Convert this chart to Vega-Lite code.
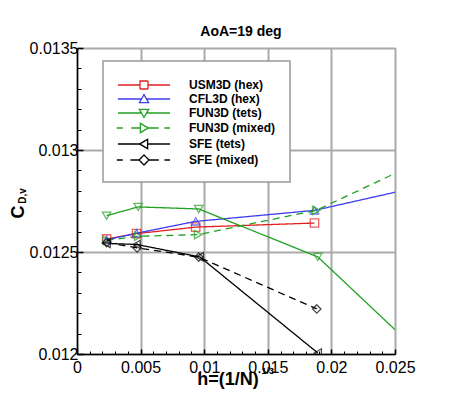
{
  "$schema": "https://vega.github.io/schema/vega-lite/v6.json",
  "autosize": "none",
  "width": 318,
  "height": 306,
  "padding": {"left": 77, "top": 48, "right": 55, "bottom": 46},
  "background": "white",
  "title": {
    "text": "AoA=19 deg",
    "font": "Liberation Sans",
    "fontSize": 14,
    "fontWeight": "bold",
    "color": "black",
    "anchor": "middle",
    "dx": 5,
    "offset": 1.5
  },
  "config": {
    "view": {"stroke": "#777777", "strokeWidth": 1},
    "axis": {
      "labelFont": "Liberation Sans",
      "labelFontSize": 16,
      "labelColor": "black",
      "titleFont": "Liberation Sans",
      "titleFontWeight": "bold",
      "titleColor": "black",
      "domainColor": "black",
      "domainWidth": 1.5,
      "tickColor": "black",
      "gridColor": "#aaaaaa",
      "gridWidth": 2,
      "labelFlush": false,
      "labelOverlap": false
    },
    "legend": {
      "labelFont": "Liberation Sans",
      "labelFontSize": 12,
      "labelFontWeight": "bold",
      "labelColor": "black",
      "labelLimit": 200
    }
  },
  "data": {
    "values": [
      {"series": "USM3D (hex)", "h": 0.00233, "cd": 0.012564},
      {"series": "USM3D (hex)", "h": 0.00468, "cd": 0.01259},
      {"series": "USM3D (hex)", "h": 0.00933, "cd": 0.012622},
      {"series": "USM3D (hex)", "h": 0.01867, "cd": 0.012642},
      {"series": "CFL3D (hex)", "h": 0.00233, "cd": 0.01256},
      {"series": "CFL3D (hex)", "h": 0.00468, "cd": 0.012592},
      {"series": "CFL3D (hex)", "h": 0.00933, "cd": 0.01265},
      {"series": "CFL3D (hex)", "h": 0.01867, "cd": 0.012704},
      {"series": "CFL3D (hex)", "h": 0.0379, "cd": 0.012974},
      {"series": "FUN3D (tets)", "h": 0.00233, "cd": 0.012678},
      {"series": "FUN3D (tets)", "h": 0.00481, "cd": 0.012721},
      {"series": "FUN3D (tets)", "h": 0.00957, "cd": 0.012711},
      {"series": "FUN3D (tets)", "h": 0.01893, "cd": 0.012476},
      {"series": "FUN3D (tets)", "h": 0.0379, "cd": 0.011361},
      {"series": "FUN3D (mixed)", "h": 0.00233, "cd": 0.012557},
      {"series": "FUN3D (mixed)", "h": 0.00481, "cd": 0.012577},
      {"series": "FUN3D (mixed)", "h": 0.00952, "cd": 0.012585},
      {"series": "FUN3D (mixed)", "h": 0.0188, "cd": 0.012704},
      {"series": "FUN3D (mixed)", "h": 0.0379, "cd": 0.013262},
      {"series": "SFE (tets)", "h": 0.00233, "cd": 0.012542},
      {"series": "SFE (tets)", "h": 0.00468, "cd": 0.012537},
      {"series": "SFE (tets)", "h": 0.00965, "cd": 0.012476},
      {"series": "SFE (tets)", "h": 0.01893, "cd": 0.012005},
      {"series": "SFE (mixed)", "h": 0.00233, "cd": 0.012546},
      {"series": "SFE (mixed)", "h": 0.00473, "cd": 0.01252},
      {"series": "SFE (mixed)", "h": 0.00957, "cd": 0.012475},
      {"series": "SFE (mixed)", "h": 0.01885, "cd": 0.012221}
    ]
  },
  "resolve": {"axis": {"x": "independent", "y": "independent"}},
  "layer": [
    {
      "mark": {"type": "line", "clip": true, "strokeWidth": 1.3},
      "encoding": {
        "x": {
          "field": "h",
          "type": "quantitative",
          "scale": {"domain": [0, 0.025], "nice": false, "zero": false},
          "axis": {
            "orient": "bottom",
            "values": [0, 0.005, 0.01, 0.015, 0.02, 0.025],
            "format": "~g",
            "tickSize": -5,
            "tickWidth": 1.5,
            "labelPadding": 10.5,
            "grid": true,
            "title": "h=(1/N)",
            "titleFontSize": 18,
            "titleAlign": "center",
            "titleBaseline": "alphabetic",
            "titleX": 150.5,
            "titleY": 30
          }
        },
        "y": {
          "field": "cd",
          "type": "quantitative",
          "scale": {"domain": [0.012, 0.0135], "nice": false, "zero": false},
          "axis": {
            "orient": "left",
            "values": [0.012, 0.0125, 0.013, 0.0135],
            "format": "~g",
            "tickSize": -6,
            "tickWidth": 1.5,
            "labelPadding": 5,
            "grid": true,
            "title": "C",
            "titleFontSize": 18,
            "titleAngle": 270,
            "titleAlign": "center",
            "titleBaseline": "alphabetic",
            "titleX": -53.5,
            "titleY": 163.5
          }
        },
        "color": {
          "field": "series",
          "type": "nominal",
          "scale": {
            "domain": ["USM3D (hex)", "CFL3D (hex)", "FUN3D (tets)", "FUN3D (mixed)", "SFE (tets)", "SFE (mixed)"],
            "range": ["#e0201f", "#3c3cf0", "#22a022", "#22a022", "black", "black"]
          },
          "legend": {
            "title": " ",
            "titleFontSize": 4,
            "titlePadding": 0,
            "orient": "none",
            "legendX": 26,
            "legendY": 13,
            "direction": "vertical",
            "padding": 14,
            "fillColor": "white",
            "strokeColor": "#999999",
            "labelFont": "Liberation Sans",
            "labelFontSize": 12,
            "labelFontWeight": "bold",
            "labelColor": "black",
            "symbolSize": 64,
            "symbolStrokeWidth": 1.3,
            "symbolOffset": 21,
            "labelOffset": 39,
            "rowPadding": 0,
            "encode": {
              "legend": {"update": {"strokeWidth": {"value": 1.5}}},
              "labels": {"update": {"fontSize": {"value": 12}}},
              "symbols": {
                "update": {
                  "size": {"value": 64},
                  "fill": {"value": "transparent"},
                  "strokeDash": {"value": [1, 0]},
                  "shape": {
                    "signal": "datum.value === 'USM3D (hex)' ? 'M-6.5,0H-1M1,0H6.5M-1,-1H1V1H-1Z' : datum.value === 'CFL3D (hex)' ? 'M-6.5,0H-0.63M0.63,0H6.5M0,-1.1L1.15,0.9L-1.15,0.9Z' : datum.value === 'FUN3D (tets)' ? 'M-6.5,0H-0.63M0.63,0H6.5M0,1.1L1.15,-0.9L-1.15,-0.9Z' : datum.value === 'FUN3D (mixed)' ? 'M-6.8,0H-5.3M-3.2,0H-0.9M1.1,0H3.7M5.1,0H6.5M-0.9,-1.15L1.1,0L-0.9,1.15Z' : datum.value === 'SFE (tets)' ? 'M-6.5,0H-1.1M0.9,0H6.5M0.9,-1.15L-1.1,0L0.9,1.15Z' : 'M-6.8,0H-5.3M-3.4,0H-1.25M1.25,0H3.7M5.1,0H6.5M0,-1.25L1.25,0L0,1.25L-1.25,0Z'"
                  }
                }
              }
            }
          }
        },
        "strokeDash": {
          "condition": {"test": "indexof(datum.series, 'mixed') >= 0", "value": [7, 5]},
          "value": [1, 0]
        }
      }
    },
    {
      "mark": {"type": "point", "clip": true, "filled": false, "size": 70, "strokeWidth": 1.3},
      "encoding": {
        "x": {
          "field": "h",
          "type": "quantitative",
          "axis": {
            "orient": "bottom",
            "values": [0.001, 0.002, 0.003, 0.004, 0.006, 0.007, 0.008, 0.009, 0.011, 0.012, 0.013, 0.014, 0.016, 0.017, 0.018, 0.019, 0.021, 0.022, 0.023, 0.024],
            "labels": false,
            "domain": false,
            "grid": false,
            "tickSize": -3,
            "tickWidth": 1,
            "title": "1/3",
            "titleFontSize": 9,
            "titleAlign": "left",
            "titleBaseline": "alphabetic",
            "titleX": 184,
            "titleY": 19.3
          }
        },
        "y": {
          "field": "cd",
          "type": "quantitative",
          "axis": {
            "orient": "left",
            "values": [0.0121, 0.0122, 0.0123, 0.0124, 0.0126, 0.0127, 0.0128, 0.0129, 0.0131, 0.0132, 0.0133, 0.0134],
            "labels": false,
            "domain": false,
            "grid": false,
            "tickSize": -4,
            "tickWidth": 1,
            "title": "D,v",
            "titleFontSize": 10,
            "titleAngle": 270,
            "titleAlign": "center",
            "titleBaseline": "alphabetic",
            "titleX": -51.5,
            "titleY": 147.5
          }
        },
        "color": {"field": "series", "type": "nominal"},
        "shape": {
          "condition": [
            {"test": "datum.series === 'USM3D (hex)'", "value": "square"},
            {"test": "datum.series === 'CFL3D (hex)'", "value": "triangle-up"},
            {"test": "datum.series === 'FUN3D (tets)'", "value": "triangle-down"},
            {"test": "datum.series === 'FUN3D (mixed)'", "value": "triangle-right"},
            {"test": "datum.series === 'SFE (tets)'", "value": "triangle-left"}
          ],
          "value": "diamond"
        }
      }
    }
  ]
}
